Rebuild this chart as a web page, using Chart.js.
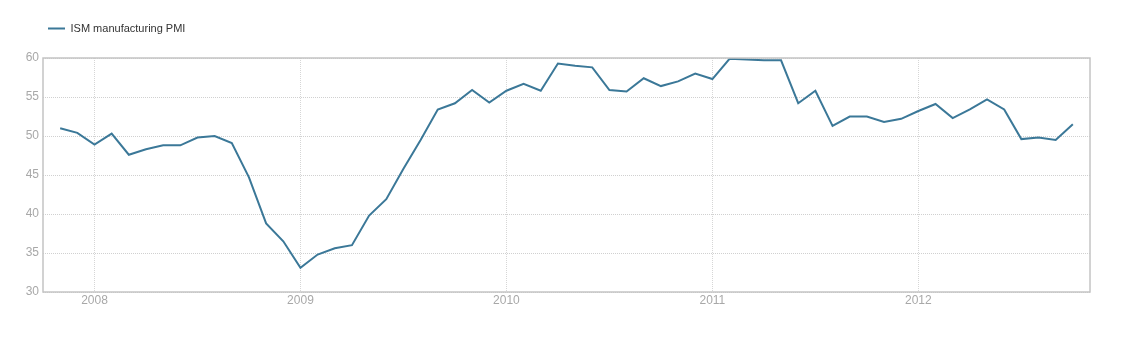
<!DOCTYPE html>
<html>
<head>
<meta charset="utf-8">
<script src="https://cdn.jsdelivr.net/npm/chart.js@4"></script>
<style>
  html, body { margin: 0; padding: 0; background: #fff; }
  #wrap { width: 1143px; height: 345px; }
</style>
</head>
<body>
<div id="wrap"><canvas id="pmi"></canvas></div>
<script>
const seriesName = 'ISM manufacturing PMI';

// monthly readings, Nov 2007 .. Oct 2012
const months = [
    '2007-11', '2007-12',
    '2008-01', '2008-02', '2008-03', '2008-04', '2008-05', '2008-06', '2008-07', '2008-08', '2008-09', '2008-10', '2008-11', '2008-12',
    '2009-01', '2009-02', '2009-03', '2009-04', '2009-05', '2009-06', '2009-07', '2009-08', '2009-09', '2009-10', '2009-11', '2009-12',
    '2010-01', '2010-02', '2010-03', '2010-04', '2010-05', '2010-06', '2010-07', '2010-08', '2010-09', '2010-10', '2010-11', '2010-12',
    '2011-01', '2011-02', '2011-03', '2011-04', '2011-05', '2011-06', '2011-07', '2011-08', '2011-09', '2011-10', '2011-11', '2011-12',
    '2012-01', '2012-02', '2012-03', '2012-04', '2012-05', '2012-06', '2012-07', '2012-08', '2012-09', '2012-10'
];

const pmi = [
    51.0, 50.4,
    48.9, 50.3, 47.6, 48.3, 48.8, 48.8, 49.8, 50.0, 49.1, 44.7, 38.8, 36.5,
    33.1, 34.8, 35.6, 36.0, 39.8, 41.9, 45.8, 49.5, 53.4, 54.2, 55.9, 54.3,
    55.8, 56.7, 55.8, 59.3, 59.0, 58.8, 55.9, 55.7, 57.4, 56.4, 57.0, 58.0,
    57.3, 59.9, 59.8, 59.7, 59.7, 54.2, 55.8, 51.3, 52.5, 52.5, 51.8, 52.2,
    53.2, 54.1, 52.3, 53.4, 54.7, 53.4, 49.6, 49.8, 49.5, 51.5
];

const yearTicks = ['2008', '2009', '2010', '2011', '2012'];

const axisStart = '2007-10';
const axisEnd = '2012-11';

// months counted from Jan 2008
function monthIndex(s) {
    const [y, m] = s.split('-').map(Number);
    return (y - 2008) * 12 + (m - 1);
}

const lineColor = '#3b7898';

// grey box round the plot
const frame = {
    id: 'frame',
    afterDatasetsDraw(chart) {
        const a = chart.chartArea;
        const ctx = chart.ctx;
        ctx.save();
        ctx.strokeStyle = '#c4c4c4';
        ctx.lineWidth = 1.5;
        ctx.strokeRect(a.left, a.top, a.right - a.left, a.bottom - a.top);
        ctx.restore();
    }
};

// extra room between legend and plot
const legendGap = {
    id: 'legendGap',
    afterInit(chart) {
        const legend = chart.legend;
        if (!legend) return;
        const fit = legend.fit;
        legend.fit = function () {
            fit.call(this);
            this.height += 14;
        };
    }
};

new Chart(document.getElementById('pmi'), {
    type: 'line',
    data: {
        datasets: [{
            label: seriesName,
            data: months.map((m, i) => ({ x: monthIndex(m), y: pmi[i] })),
            borderColor: lineColor,
            backgroundColor: lineColor,
            borderWidth: 2,
            pointRadius: 0,
            tension: 0
        }]
    },
    options: {
        responsive: true,
        maintainAspectRatio: false,
        animation: false,
        layout: {
            padding: { left: 25, right: 53, top: 0, bottom: 33 }
        },
        plugins: {
            legend: {
                position: 'top',
                align: 'start',
                labels: {
                    boxWidth: 17,
                    boxHeight: 0,
                    padding: 23,
                    color: '#333',
                    font: { family: 'Liberation Sans', size: 11 }
                }
            },
            tooltip: { enabled: false }
        },
        scales: {
            x: {
                type: 'linear',
                min: monthIndex(axisStart),
                max: monthIndex(axisEnd),
                afterBuildTicks(axis) {
                    axis.ticks = yearTicks.map(y => ({ value: monthIndex(y + '-01') }));
                },
                afterFit(axis) {
                    axis.height = 20;
                },
                ticks: {
                    padding: 1,
                    color: '#a8a8a8',
                    font: { family: 'Liberation Sans', size: 12 },
                    callback: v => yearTicks[v / 12]
                },
                grid: {
                    color: '#d6d6d6',
                    drawTicks: false
                },
                border: { display: false, dash: [1, 1] }
            },
            y: {
                min: 30,
                max: 60,
                afterFit(axis) {
                    axis.width = 18;
                },
                ticks: {
                    stepSize: 5,
                    padding: 4,
                    color: '#a8a8a8',
                    font: { family: 'Liberation Sans', size: 12 }
                },
                grid: {
                    color: '#d0d0d0',
                    drawTicks: false
                },
                border: { display: false, dash: [1, 1] }
            }
        }
    },
    plugins: [frame, legendGap]
});
</script>
</body>
</html>
